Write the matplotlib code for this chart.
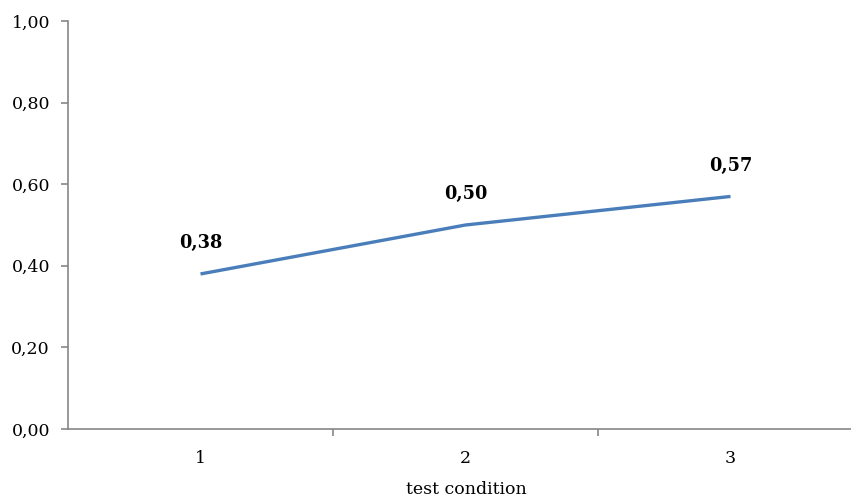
import matplotlib.pyplot as plt
from matplotlib.ticker import FixedLocator

plt.rcParams['font.family'] = ['DejaVu Serif']

conditions = [1, 2, 3]
values = [0.38, 0.50, 0.57]
value_labels = ['0,38', '0,50', '0,57']
y_ticks = [0.0, 0.2, 0.4, 0.6, 0.8, 1.0]
y_tick_labels = ['0,00', '0,20', '0,40', '0,60', '0,80', '1,00']

W, H = 851, 499
fig = plt.figure(figsize=(W / 100, H / 100), dpi=100)
# axis area in pixels: left 68, right 863 (beyond edge), top 21, bottom 429
ax = fig.add_axes([68 / W, 1 - 429 / H, (863 - 68) / W, (429 - 21) / H])

LINE_BLUE = '#4A7EBB'
AXIS_GRAY = '#868686'

ax.plot(conditions, values, color=LINE_BLUE, lw=2.4, solid_capstyle='butt')
for x, v, lab in zip(conditions, values, value_labels):
    ax.annotate(lab, (x, v), xytext=(0, 22), textcoords='offset points',
                ha='center', va='center', fontsize=12.8, fontweight='bold')

ax.set_xlim(0.5, 3.5)
ax.set_ylim(0, 1.0)
ax.set_yticks(y_ticks)
ax.set_yticklabels(y_tick_labels)
ax.set_xticks(conditions)
ax.set_xticklabels([str(c) for c in conditions])
ax.xaxis.set_minor_locator(FixedLocator([1.5, 2.5]))

for s in ['top', 'right']:
    ax.spines[s].set_visible(False)
for s in ['left', 'bottom']:
    ax.spines[s].set_color(AXIS_GRAY)
    ax.spines[s].set_linewidth(1.2)

ax.tick_params(axis='y', direction='out', length=5, width=1.2, color=AXIS_GRAY,
               labelsize=12.5, pad=8)
ax.tick_params(axis='x', which='major', length=0, labelsize=12.5, pad=15)
ax.tick_params(axis='x', which='minor', direction='out', length=5, width=1.2,
               color=AXIS_GRAY)

ax.set_xlabel('test condition', fontsize=12.5)
ax.xaxis.set_label_coords((466 - 68) / (863 - 68), -(490 - 429) / (429 - 21))
ax.xaxis.label.set_va('center')

fig.savefig('out.png', dpi=100)
